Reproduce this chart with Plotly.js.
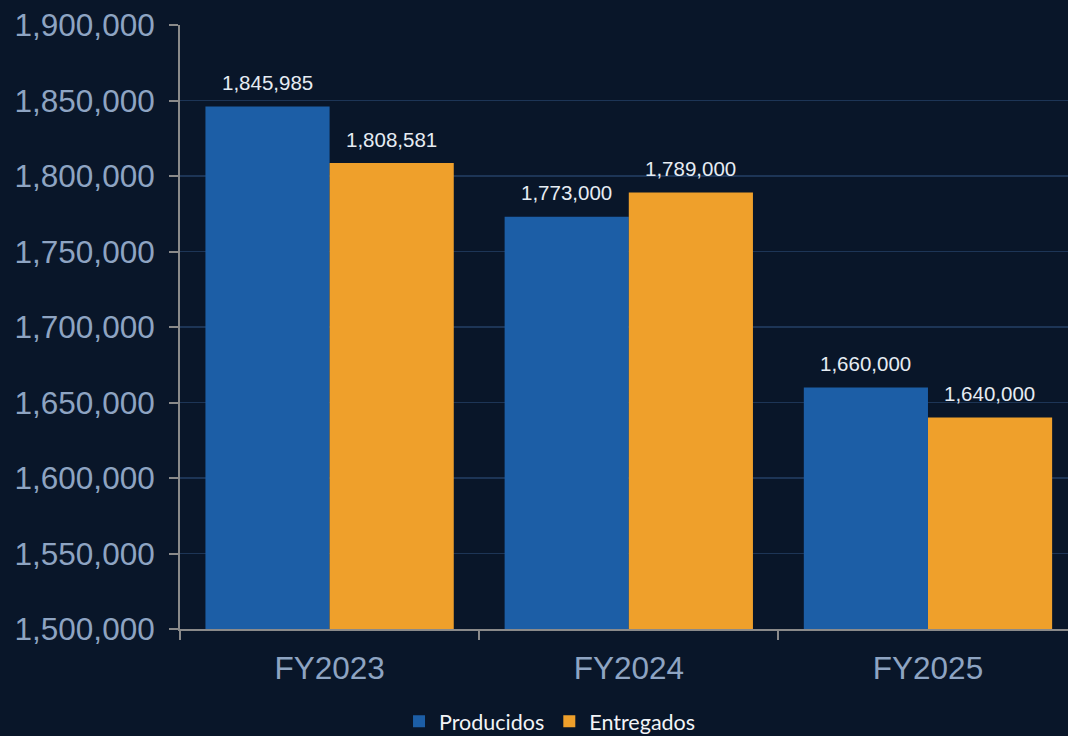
<!DOCTYPE html>
<html><head><meta charset="utf-8">
<script src="https://cdn.plot.ly/plotly-3.0.1.min.js"></script>
<style>html,body{margin:0;padding:0;background:#091629;}#c{width:1068px;height:736px;}</style>
</head><body><div id="c"></div>
<script>
const categories = ["FY2023", "FY2024", "FY2025"];
const producidos = [1845985, 1773000, 1660000];
const entregados = [1808581, 1789000, 1640000];
const seriesNames = ["Producidos", "Entregados"];
const yTicks = [1500000,1550000,1600000,1650000,1700000,1750000,1800000,1850000,1900000];

const fmt = v => v.toLocaleString("en-US");
const colors = ["#1c5ea6", "#efa02b"];

const traces = [producidos, entregados].map((vals, i) => ({
  type: "bar", x: categories, y: vals, name: seriesNames[i],
  marker: {color: colors[i]}, hoverinfo: "skip"
}));

const annotations = [];
[producidos, entregados].forEach((vals, i) => {
  vals.forEach((v, j) => annotations.push({
    x: categories[j], y: v, xref: "x", yref: "y",
    text: fmt(v), showarrow: false, xshift: i === 0 ? -62 : 62, yshift: 24,
    font: {family: "Liberation Sans, Arial, sans-serif", size: 20.5, color: "#e6ecf3"}
  }));
});

const layout = {
  width: 1068, height: 736,
  paper_bgcolor: "#091629", plot_bgcolor: "#091629",
  margin: {l: 180, r: 0, t: 25, b: 107},
  barmode: "group", bargap: 0.17, bargroupgap: 0,
  showlegend: true,
  legend: {orientation: "h", xref: "container", yref: "container", x: 0.515, y: 0.02,
           xanchor: "center", yanchor: "middle",
           font: {family: "Lato, Carlito, sans-serif", size: 21.5, color: "#f2f4f7"},
           itemwidth: 30, traceorder: "normal"},
  xaxis: {
    type: "category", range: [-0.5, 2.468],
    showline: true, linecolor: "#8a8a8a", linewidth: 2,
    ticks: "outside", tickson: "boundaries", ticklen: 9, tickcolor: "#8a8a8a", tickwidth: 2,
    ticklabelstandoff: 10,
    tickfont: {family: "Liberation Sans, Arial, sans-serif", size: 31.5, color: "#8ea4c2"},
    showgrid: false, fixedrange: true
  },
  yaxis: {
    range: [1500000, 1900000], tickvals: yTicks, ticktext: yTicks.map(fmt),
    showline: true, linecolor: "#8a8a8a", linewidth: 2,
    ticks: "outside", ticklen: 9, tickcolor: "#8a8a8a", tickwidth: 2,
    ticklabelstandoff: 8,
    tickfont: {family: "Liberation Sans, Arial, sans-serif", size: 31.5, color: "#8ea4c2"},
    showgrid: true, gridcolor: "#1d3556", gridwidth: 1.5, zeroline: false, fixedrange: true
  },
  annotations: annotations
};

Plotly.newPlot("c", traces, layout, {displayModeBar: false, staticPlot: true});
</script>
</body></html>
